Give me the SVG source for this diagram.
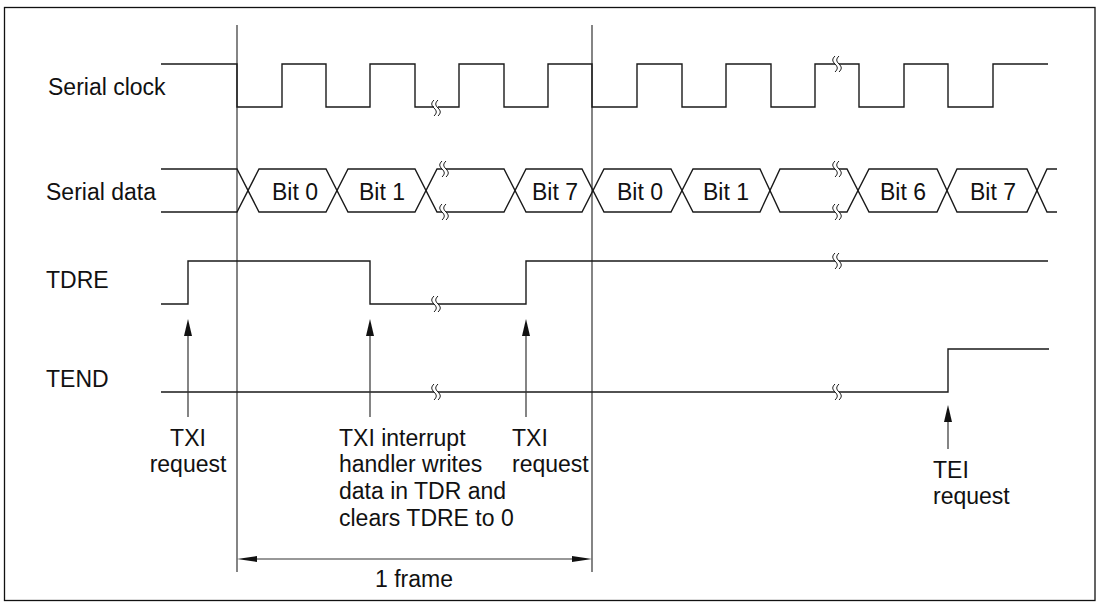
<svg xmlns="http://www.w3.org/2000/svg" width="1100" height="604" viewBox="0 0 1100 604">
<style>
.w{fill:none;stroke:#1a1a1a;stroke-width:1.4;stroke-linejoin:miter}
.v{fill:none;stroke:#333;stroke-width:1.2}
.br{fill:none;stroke:#1a1a1a;stroke-width:1}
.mask{stroke:#fff;stroke-width:4}
text{font-family:"Liberation Sans",Arial,sans-serif;font-size:23px;fill:#111}
.ah{fill:#111;stroke:none}
</style>
<defs>
<g id="brk">
<path class="mask" d="M-1,0 L3,0"/>
<path class="br" d="M-1,-8 C-4,-5 -4,-3 -1,0 C2,3 2,5 -1,8 M3,-8 C0,-5 0,-3 3,0 C6,3 6,5 3,8"/>
</g>
</defs>
<rect x="4.5" y="7.5" width="1090.5" height="593" fill="#fff" stroke="#111" stroke-width="1.3"/>

<g id="frame-lines">
<line class="v" x1="237" y1="25" x2="237" y2="572"/>
<line class="v" x1="592" y1="25" x2="592" y2="572"/>
</g>

<g id="serial-clock">
<text x="48" y="95">Serial clock</text>
<path class="w" d="M161,64 H237 V107 H282 V64 H326 V107 H370 V64 H415 V107 H459 V64 H504 V107 H548 V64 H592 V107 H637 V64 H682 V107 H726 V64 H771 V107 H815 V64 H859 V107 H904 V64 H948 V107 H993 V64 H1048"/>
<use href="#brk" x="435" y="108"/>
<use href="#brk" x="836" y="64"/>
</g>

<g id="serial-data">
<text x="46" y="200">Serial data</text>
<path class="w" d="M161,169 H237 L259,212 H326 L348,169 H415 L437,212 H504 L526,169 H582 L604,212 H671 L693,169 H760 L780,212 H847 L869,169 H937 L957,212 H1027 L1047,169 H1057"/>
<path class="w" d="M161,212 H237 L259,169 H326 L348,212 H415 L437,169 H504 L526,212 H582 L604,169 H671 L693,212 H760 L780,169 H847 L869,212 H937 L957,169 H1027 L1047,212 H1057"/>
<use href="#brk" x="443" y="169"/>
<use href="#brk" x="443" y="212"/>
<use href="#brk" x="836" y="169"/>
<use href="#brk" x="836" y="212"/>
<text x="295" y="200" text-anchor="middle">Bit 0</text>
<text x="382" y="200" text-anchor="middle">Bit 1</text>
<text x="555" y="200" text-anchor="middle">Bit 7</text>
<text x="640" y="200" text-anchor="middle">Bit 0</text>
<text x="726" y="200" text-anchor="middle">Bit 1</text>
<text x="903" y="200" text-anchor="middle">Bit 6</text>
<text x="993" y="200" text-anchor="middle">Bit 7</text>
</g>

<g id="tdre">
<text x="46" y="288">TDRE</text>
<path class="w" d="M161,304 H188 V261 H370 V304 H526 V261 H1048"/>
<use href="#brk" x="435" y="304"/>
<use href="#brk" x="836" y="261"/>
</g>

<g id="tend">
<text x="46" y="387">TEND</text>
<path class="w" d="M161,392 H948 V349 H1049"/>
<use href="#brk" x="435" y="392"/>
<use href="#brk" x="836" y="392"/>
</g>

<g id="connectors">
<line class="v" x1="188" y1="417" x2="188" y2="334"/>
<path class="ah" d="M188,319 L192,336 L184,336 Z"/>
<line class="v" x1="370" y1="417" x2="370" y2="334"/>
<path class="ah" d="M370,319 L374,336 L366,336 Z"/>
<line class="v" x1="526" y1="417" x2="526" y2="334"/>
<path class="ah" d="M526,319 L530,336 L522,336 Z"/>
<line class="v" x1="948" y1="449" x2="948" y2="420"/>
<path class="ah" d="M948,405 L952,422 L944,422 Z"/>
<line class="v" x1="250" y1="559" x2="580" y2="559"/>
<path class="ah" d="M237,559 L257,556 L257,562 Z"/>
<path class="ah" d="M592,559 L572,556 L572,562 Z"/>
</g>

<g id="labels">
<text x="188" y="446" text-anchor="middle">TXI</text>
<text x="188" y="472" text-anchor="middle">request</text>
<text x="339" y="446">TXI interrupt</text>
<text x="339" y="472">handler writes</text>
<text x="339" y="499">data in TDR and</text>
<text x="339" y="526">clears TDRE to 0</text>
<text x="512" y="446">TXI</text>
<text x="512" y="472">request</text>
<text x="933" y="478">TEI</text>
<text x="933" y="504">request</text>
<text x="414" y="587" text-anchor="middle">1 frame</text>
</g>
</svg>
